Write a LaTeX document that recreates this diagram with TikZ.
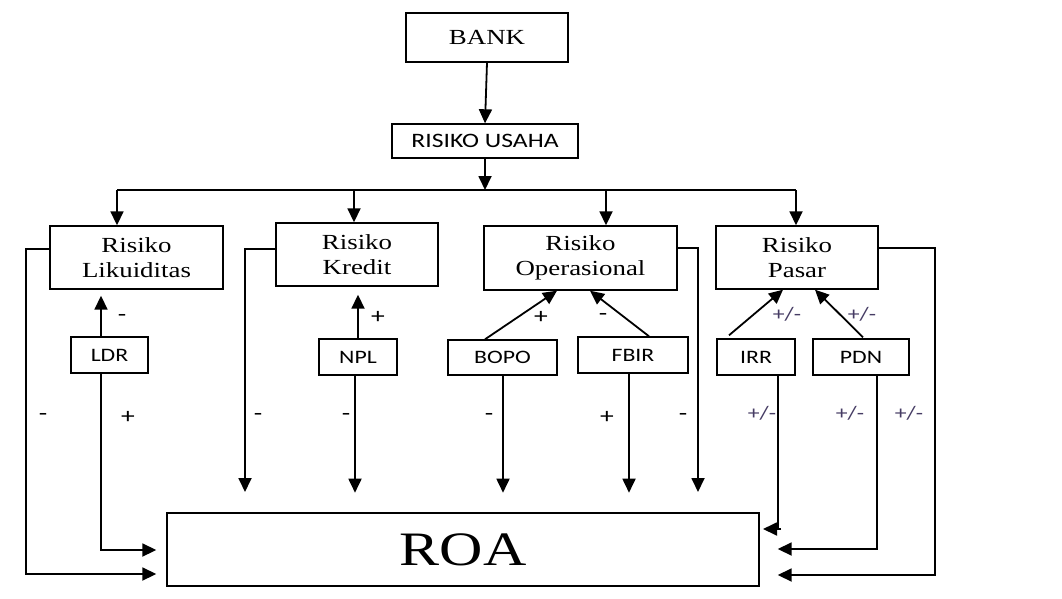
\documentclass[tikz,border=0pt]{standalone}
\usepackage{fontspec}
\setmainfont{Liberation Serif}[FakeStretch=1.25]
\newfontfamily\sanswide{Carlito}[FakeStretch=1.25]
\usetikzlibrary{arrows.meta}
\definecolor{pmcol}{RGB}{70,60,100}
\tikzset{
  box/.style={draw, line width=1.4pt, inner sep=0pt, align=center},
  bigbox/.style={box, font=\fontsize{21.5}{25}\selectfont},
  smallbox/.style={box, font=\sanswide\fontsize{19}{20}\selectfont},
  arr/.style={line width=1.8pt, -{Triangle[length=14pt,width=13pt]}},
  ln/.style={line width=1.8pt},
  sgn/.style={font=\sanswide\fontsize{22}{22}\selectfont, inner sep=0pt},
  pm/.style={font=\sanswide\fontsize{19}{20}\selectfont, text=pmcol, inner sep=0pt}
}
\begin{document}
\begin{tikzpicture}[x=1pt,y=-1pt]
\useasboundingbox (0,0) rectangle (1062,599);
% boxes
\node[bigbox, minimum width=162pt, minimum height=49pt] (bank) at (487,37.5) {BANK};
\node[box, font=\sanswide\fontsize{20.5}{22}\selectfont, minimum width=186pt, minimum height=34pt] (ru) at (485,141) {RISIKO USAHA};
\node[bigbox, minimum width=173pt, minimum height=63pt] (rl) at (136.5,257.5) {Risiko\\Likuiditas};
\node[bigbox, minimum width=162pt, minimum height=63pt] (rk) at (357,254.5) {Risiko\\Kredit};
\node[bigbox, minimum width=193pt, minimum height=64pt] (ro) at (580.5,258) {Risiko\\Operasional};
\node[bigbox, minimum width=162pt, minimum height=63pt] (rp) at (797,257.5) {Risiko\\Pasar};
\node[smallbox, minimum width=77pt, minimum height=36pt] (ldr) at (109.5,355) {LDR};
\node[smallbox, minimum width=78pt, minimum height=36pt] (npl) at (358,357) {NPL};
\node[smallbox, minimum width=109pt, minimum height=35pt] (bopo) at (502.5,357.5) {BOPO};
\node[smallbox, minimum width=110pt, minimum height=36pt] (fbir) at (633,355) {FBIR};
\node[smallbox, minimum width=78pt, minimum height=36pt] (irr) at (756,357) {IRR};
\node[smallbox, minimum width=96pt, minimum height=36pt] (pdn) at (861,357) {PDN};
\node[box, font=\fontsize{48}{50}\selectfont, minimum width=592pt, minimum height=73pt] (roa) at (463,549.5) {ROA};
% top connectors
\draw[arr] (bank.south) -- (ru.north);
\coordinate (bus) at (485,190);
\coordinate (b1) at (117,190);
\coordinate (b2) at (354,190);
\coordinate (b3) at (606,190);
\coordinate (b4) at (796,190);
\draw[arr] (ru.south) -- (bus);
\draw[ln] (b1) -- (b4);
\draw[arr] (b1) -- (b1 |- rl.north);
\draw[arr] (b2) -- (b2 |- rk.north);
\draw[arr] (b3) -- (b3 |- ro.north);
\draw[arr] (b4) -- (b4 |- rp.north);
% Likuiditas
\draw[arr, shorten >=6pt] ([xshift=-8.5pt]ldr.north) -- ([xshift=-35.5pt]rl.south);
\draw[arr] ([xshift=-8.5pt]ldr.south) |- ([xshift=-10pt,yshift=-0.5pt]roa.west);
\draw[arr] ([yshift=8.5pt]rl.west) -| (26,574) -- ([xshift=-10pt,yshift=-24.5pt]roa.west);
% Kredit
\draw[arr] ([yshift=5.5pt]rk.west) -| (245,492);
\draw[arr, shorten >=8pt] (npl.north) -- (npl.north |- rk.south);
\draw[arr] ([xshift=-3pt]npl.south) -- ++(0,117);
% Operasional
\draw[arr] ([xshift=-17.5pt]bopo.north) -- ([xshift=-23.5pt]ro.south);
\draw[arr] ([xshift=16pt]fbir.north) -- ([xshift=9.5pt]ro.south);
\draw[arr] ([xshift=0.5pt]bopo.south) -- ++(0,117);
\draw[arr] ([xshift=-4pt]fbir.south) -- ++(0,119);
\draw[arr] ([yshift=10pt]ro.east) -| (698,492);
% Pasar
\draw[arr] ([xshift=-27pt,yshift=3pt]irr.north) -- ([xshift=-14pt]rp.south);
\draw[arr] ([xshift=2pt,yshift=1pt]pdn.north) -- ([xshift=18pt]rp.south);
\coordinate (irrc) at (778,529);
\draw[ln] ([xshift=22pt]irr.south) -- (irrc);
\draw[arr] ([xshift=3pt]irrc) -- ++(-18,0);
\draw[arr] ([xshift=16pt]pdn.south) |- ([xshift=18pt,yshift=0.5pt]roa.east);
\draw[arr] ([yshift=9.5pt]rp.east) -| (935,575) -- ([xshift=18pt,yshift=-25.5pt]roa.east);
% signs
\node[sgn] (s1) at (122,318) {-};
\node[sgn] (s2) at (128,417) {+};
\node[sgn] (s3) at (43,417) {-};
\node[sgn] (s4) at (258,417) {-};
\node[sgn] (s5) at (378,317) {+};
\node[sgn] (s6) at (346,417) {-};
\node[sgn] (s7) at (541,317) {+};
\node[sgn] (s8) at (603,317) {-};
\node[sgn] (s9) at (489,417) {-};
\node[sgn] (s10) at (607,417) {+};
\node[sgn] (s11) at (683,417) {-};
\node[pm] (p1) at (787,314) {+/-};
\node[pm] (p2) at (862,314) {+/-};
\node[pm] (p3) at (762,413) {+/-};
\node[pm] (p4) at (850,413) {+/-};
\node[pm] (p5) at (909,413) {+/-};
\end{tikzpicture}
\end{document}
